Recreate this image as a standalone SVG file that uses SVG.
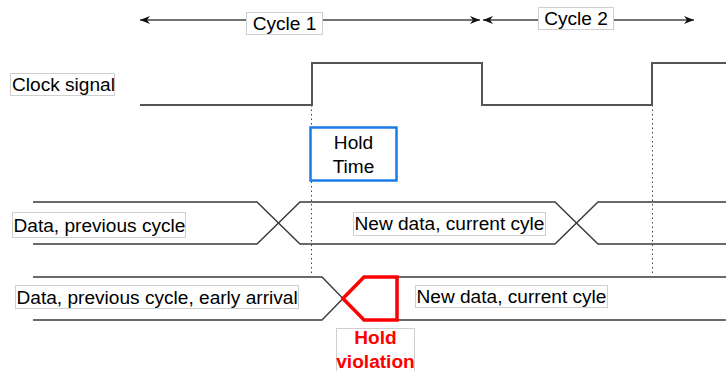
<svg xmlns="http://www.w3.org/2000/svg" width="726" height="371" viewBox="0 0 726 371">
  <style>
    .sig { fill: none; stroke: #3a3a3a; stroke-width: 1.4; }
    .clk { fill: none; stroke: #555; stroke-width: 2; }
    .guide { fill: none; stroke: #444; stroke-width: 1; stroke-dasharray: 1.5 3; }
    .span { stroke: #444; stroke-width: 1.4; }
    .lbl { fill: #fff; stroke: #cfcfcf; stroke-width: 1; }
    .txt { font-family: "Liberation Sans", Arial, sans-serif; font-size: 19.1px; fill: #000; }
    .bad { font-family: "Liberation Sans", Arial, sans-serif; font-size: 19.1px; font-weight: bold; fill: #ff0000; }
  </style>
  <defs>
    <marker id="arr" viewBox="0 0 10 10" refX="10" refY="5" markerWidth="10" markerHeight="10" markerUnits="userSpaceOnUse" orient="auto-start-reverse">
      <path d="M0,1 L10,5 L0,9 L3,5 Z" fill="#111"/>
    </marker>
  </defs>

  <rect width="726" height="371" fill="#fff"/>

  <!-- clock edge guides -->
  <g id="guides">
    <line class="guide" x1="311.5" y1="105" x2="311.5" y2="276"/>
    <line class="guide" x1="652.5" y1="105" x2="652.5" y2="276"/>
  </g>

  <!-- cycle spans -->
  <g id="connectors">
    <line class="span" x1="140" y1="20" x2="480" y2="20" marker-start="url(#arr)" marker-end="url(#arr)"/>
    <line class="span" x1="483" y1="20" x2="694" y2="20" marker-start="url(#arr)" marker-end="url(#arr)"/>
  </g>

  <g id="cycle1">
    <rect class="lbl" x="246.5" y="12.5" width="76" height="22"/>
    <text class="txt" x="284.5" y="30" text-anchor="middle">Cycle 1</text>
  </g>
  <g id="cycle2">
    <rect class="lbl" x="538.5" y="7.5" width="75" height="22"/>
    <text class="txt" x="576" y="25" text-anchor="middle">Cycle 2</text>
  </g>

  <!-- clock waveform -->
  <g id="clock">
    <polyline class="clk" points="140,105 312,105 312,63 482,63 482,105 652,105 652,63 726,63"/>
    <rect class="lbl" x="10.5" y="73.5" width="104" height="22"/>
    <text class="txt" x="12" y="91">Clock signal</text>
  </g>

  <!-- hold time window -->
  <g id="hold-time">
    <rect x="310.5" y="127.5" width="86" height="53" fill="#fff" stroke="#1a7be8" stroke-width="2.5"/>
    <text class="txt" x="353.5" y="149" text-anchor="middle">Hold</text>
    <text class="txt" x="353.5" y="173" text-anchor="middle">Time</text>
  </g>

  <!-- data, normal timing -->
  <g id="data-normal">
    <path class="sig" d="M33,202 L257,202 L300,244 L555,244 L598,202 L726,202"/>
    <path class="sig" d="M33,244 L257,244 L300,202 L555,202 L598,244 L726,244"/>
    <rect class="lbl" x="12.5" y="212.5" width="173" height="25"/>
    <text class="txt" x="13.5" y="232">Data, previous cycle</text>
    <rect class="lbl" x="353.5" y="212.5" width="192" height="23"/>
    <text class="txt" x="354.5" y="230">New data, current cyle</text>
  </g>

  <!-- data, early arrival -->
  <g id="data-early">
    <path class="sig" d="M33,277 L322,277 L343,298.5 L322,320 L33,320"/>
    <path class="sig" d="M397,277 L726,277 M397,320 L726,320"/>
    <path d="M343,298.5 L364,277 L397,277 L397,320 L364,320 Z" fill="none" stroke="#ff0000" stroke-width="3.5" stroke-linejoin="miter"/>
    <rect class="lbl" x="15.5" y="285.5" width="283" height="23"/>
    <text class="txt" x="16.5" y="304">Data, previous cycle, early arrival</text>
    <rect class="lbl" x="415.5" y="285.5" width="192" height="22"/>
    <text class="txt" x="416.5" y="303">New data, current cyle</text>
  </g>

  <!-- hold violation callout -->
  <g id="hold-violation">
    <rect class="lbl" x="336.5" y="328.5" width="78" height="46"/>
    <text class="bad" x="375.5" y="344" text-anchor="middle">Hold</text>
    <text class="bad" x="375.5" y="368" text-anchor="middle">violation</text>
  </g>
</svg>
